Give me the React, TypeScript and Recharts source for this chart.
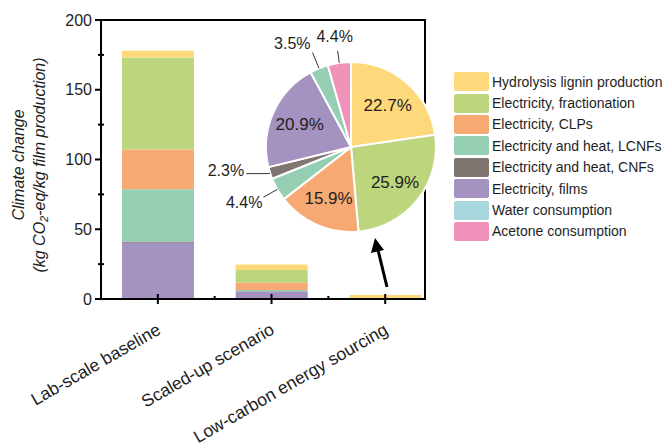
import { BarChart, Bar, XAxis, YAxis, PieChart, Pie, Cell } from 'recharts';

const categories = ['Lab-scale baseline', 'Scaled-up scenario', 'Low-carbon energy sourcing'];

const seriesKeys = ['lignin', 'fractionation', 'clps', 'lcnfs', 'cnfs', 'films', 'water', 'acetone'];
const seriesNames = [
    'Hydrolysis lignin production',
    'Electricity, fractionation',
    'Electricity, CLPs',
    'Electricity and heat, LCNFs',
    'Electricity and heat, CNFs',
    'Electricity, films',
    'Water consumption',
    'Acetone consumption',
];
const seriesColors = ['#fdd97b', '#bdd57d', '#f6a972', '#95cfb3', '#7f7671', '#a492c1', '#a7d7dc', '#ef91b9'];

// kg CO2-eq per kg film, per scenario
const lignin = [4.8, 4.1, 2.8];
const fractionation = [66.0, 8.8, 0];
const clps = [28.5, 5.5, 0];
const lcnfs = [37.4, 0.9, 0];
const cnfs = [0.8, 0.3, 0];
const films = [40.4, 5.2, 0];
const water = [0, 0, 0];
const acetone = [0, 0, 0];

// share of low-carbon scenario (%), clockwise from 12 o'clock
const pieValues = [22.7, 25.9, 15.9, 4.4, 2.3, 20.9, 3.5, 4.4];
const pieColors = ['#fdd97b', '#bdd57d', '#f6a972', '#95cfb3', '#7f7671', '#a492c1', '#95cfb3', '#ef91b9'];

const yTicks = [0, 25, 50, 75, 100, 125, 150, 175, 200];
const xTicks = [0.5, 1, 1.5, 2, 2.5];

const seriesValues = [lignin, fractionation, clps, lcnfs, cnfs, films, water, acetone];
const barData = categories.map((name, i) => {
    const row: Record<string, number | string> = { name, x: i + 0.5 };
    seriesKeys.forEach((k, s) => (row[k] = seriesValues[s][i]));
    return row;
});
const pieData = pieValues.map((value, i) => ({ name: seriesNames[i], value }));

// bottom of the stack first
const stackOrder = ['films', 'cnfs', 'lcnfs', 'clps', 'fractionation', 'lignin', 'water', 'acetone'];

const TEXT = '#1e1e1e';
const FONT = '"Liberation Sans", Arial, sans-serif';
const X_DOMAIN: [number, number] = [0, 2.85];
const Y_DOMAIN: [number, number] = [0, 200];

// chart layout
const W = 667;
const H = 446;
const MARGIN = { top: 20, right: 242, left: 41, bottom: 117 };
const Y_AXIS_W = 60;
const X_AXIS_H = 30;
const plot = {
    x: MARGIN.left + Y_AXIS_W,
    y: MARGIN.top,
    w: W - MARGIN.left - Y_AXIS_W - MARGIN.right,
    h: H - MARGIN.top - MARGIN.bottom - X_AXIS_H,
};
const LINE = 2.5;

const YTick = (props: any) => {
    const { x, y, payload } = props;
    const v = payload.value;
    if (v % 50 === 0) {
        return (
            <g>
                <line x1={x - 6} x2={x} y1={y} y2={y} stroke="#000" strokeWidth={2} />
                <text x={x - 9} y={y} dy={5.5} textAnchor="end" fontSize={16} fill={TEXT} fontFamily={FONT}>
                    {v}
                </text>
            </g>
        );
    }
    return <line x1={x - 3} x2={x + 3} y1={y} y2={y} stroke="#000" strokeWidth={2} />;
};

const XTick = (props: any) => {
    const { x, y, payload } = props;
    const v = payload.value;
    if (v % 1 === 0.5) {
        const label = categories[Math.floor(v)];
        const ax = x + 4;
        const ay = y + 34;
        return (
            <g>
                <line x1={x} x2={x} y1={y - 5} y2={y + 5} stroke="#000" strokeWidth={2} />
                <text
                    x={ax}
                    y={ay}
                    textAnchor="end"
                    fontSize={17.5}
                    fill={TEXT}
                    fontFamily={FONT}
                    transform={`rotate(-30 ${ax} ${ay})`}
                >
                    {label}
                </text>
            </g>
        );
    }
    return <line x1={x} x2={x} y1={y - 3} y2={y} stroke="#000" strokeWidth={2} />;
};

// outer label placement for the small slices
const outerLayout: Record<number, { len: number; hx: number; dx: number; dy: number; anchor: string }> = {
    3: { len: 16, hx: 0, dx: -1, dy: 11, anchor: 'end' },
    4: { len: 2, hx: -22, dx: -2, dy: 2, anchor: 'end' },
    6: { len: 17, hx: 0, dx: -2, dy: -4, anchor: 'end' },
    7: { len: 12, hx: 0, dx: -3, dy: -9, anchor: 'middle' },
};

const RAD = Math.PI / 180;
const renderPieLabel = (props: any) => {
    const { cx, cy, midAngle, outerRadius, index } = props;
    const cos = Math.cos(-midAngle * RAD);
    const sin = Math.sin(-midAngle * RAD);
    const text = `${pieValues[index].toFixed(1)}%`;
    const lay = outerLayout[index];
    if (!lay) {
        const r = outerRadius * 0.66;
        return (
            <text
                x={cx + r * cos}
                y={cy + r * sin}
                dy={6}
                textAnchor="middle"
                fontSize={17}
                fill={TEXT}
                fontFamily={FONT}
            >
                {text}
            </text>
        );
    }
    const x0 = cx + outerRadius * cos;
    const y0 = cy + outerRadius * sin;
    const x1 = cx + (outerRadius + lay.len) * cos;
    const y1 = cy + (outerRadius + lay.len) * sin;
    const x2 = x1 + lay.hx;
    return (
        <g>
            <polyline points={`${x0},${y0} ${x1},${y1} ${x2},${y1}`} fill="none" stroke="#333" strokeWidth={1} />
            <text
                x={x2 + lay.dx}
                y={y1 + lay.dy}
                textAnchor={lay.anchor as any}
                fontSize={16}
                fill={TEXT}
                fontFamily={FONT}
            >
                {text}
            </text>
        </g>
    );
};

const edge = (left: number, top: number, width: number, height: number) => (
    <div style={{ position: 'absolute', left, top, width, height, background: '#000' }} />
);

export default function App() {
    return (
        <div
            style={{
                position: 'absolute',
                left: 0,
                top: 0,
                width: W,
                height: H,
                background: '#fff',
                fontFamily: FONT,
                color: TEXT,
            }}
        >
            <BarChart width={W} height={H} data={barData} margin={MARGIN}>
                <XAxis
                    dataKey="x"
                    type="number"
                    domain={X_DOMAIN}
                    ticks={xTicks}
                    interval={0}
                    tick={<XTick />}
                    tickLine={false}
                    tickSize={0}
                    tickMargin={0}
                    height={X_AXIS_H}
                    axisLine={false}
                />
                <YAxis
                    type="number"
                    domain={Y_DOMAIN}
                    ticks={yTicks}
                    interval={0}
                    tick={<YTick />}
                    tickLine={false}
                    tickSize={0}
                    tickMargin={0}
                    width={Y_AXIS_W}
                    axisLine={false}
                />
                {stackOrder.map((k) => {
                    const s = seriesKeys.indexOf(k);
                    return (
                        <Bar
                            key={k}
                            dataKey={k}
                            stackId="a"
                            barSize={72}
                            fill={seriesColors[s]}
                            isAnimationActive={false}
                        />
                    );
                })}
            </BarChart>

            {/* plot frame */}
            {edge(plot.x - LINE / 2, plot.y - LINE / 2, plot.w + LINE, LINE)}
            {edge(plot.x - LINE / 2, plot.y + plot.h - LINE / 2, plot.w + LINE, LINE)}
            {edge(plot.x - LINE / 2, plot.y - LINE / 2, LINE, plot.h + LINE)}
            {edge(plot.x + plot.w - LINE / 2, plot.y - LINE / 2, LINE, plot.h + LINE)}

            {/* arrow pointing from the low-carbon bar up to the pie */}
            <svg style={{ position: 'absolute', left: 0, top: 0 }} width={W} height={H}>
                <line x1={387} y1={287} x2={378} y2={250} stroke="#000" strokeWidth={3} />
                <polygon points="375,238 371,253 384,250" fill="#000" />
            </svg>

            <div style={{ position: 'absolute', left: 196, top: 22 }}>
                <PieChart width={300} height={240}>
                    <Pie
                        data={pieData}
                        dataKey="value"
                        cx={150}
                        cy={120}
                        outerRadius={85}
                        startAngle={90}
                        endAngle={-270}
                        stroke="#fff"
                        strokeWidth={2}
                        label={renderPieLabel}
                        labelLine={false}
                        isAnimationActive={false}
                    >
                        {pieData.map((d, i) => (
                            <Cell key={d.name + i} fill={pieColors[i]} />
                        ))}
                    </Pie>
                </PieChart>
            </div>

            {/* y axis title */}
            <div
                style={{
                    position: 'absolute',
                    left: 19 - 150,
                    top: 165 - 10,
                    width: 300,
                    height: 20,
                    lineHeight: '20px',
                    textAlign: 'center',
                    fontSize: 16,
                    fontStyle: 'italic',
                    transform: 'rotate(-90deg)',
                }}
            >
                Climate change
            </div>
            <div
                style={{
                    position: 'absolute',
                    left: 40 - 150,
                    top: 165 - 10,
                    width: 300,
                    height: 20,
                    lineHeight: '20px',
                    textAlign: 'center',
                    fontSize: 16,
                    fontStyle: 'italic',
                    transform: 'rotate(-90deg)',
                    whiteSpace: 'nowrap',
                }}
            >
                (kg CO<sub style={{ fontSize: 11, verticalAlign: '-3px' }}>2</sub>-eq/kg film production)
            </div>

            {/* legend */}
            <div style={{ position: 'absolute', left: 454, top: 71 }}>
                {seriesNames.map((n, i) => (
                    <div key={n} style={{ display: 'flex', alignItems: 'center', height: 21.4 }}>
                        <div
                            style={{
                                width: 35,
                                height: 19,
                                background: seriesColors[i],
                                borderRadius: 2,
                                marginRight: 3,
                            }}
                        />
                        <span style={{ fontSize: 14, whiteSpace: 'nowrap' }}>{n}</span>
                    </div>
                ))}
            </div>
        </div>
    );
}
